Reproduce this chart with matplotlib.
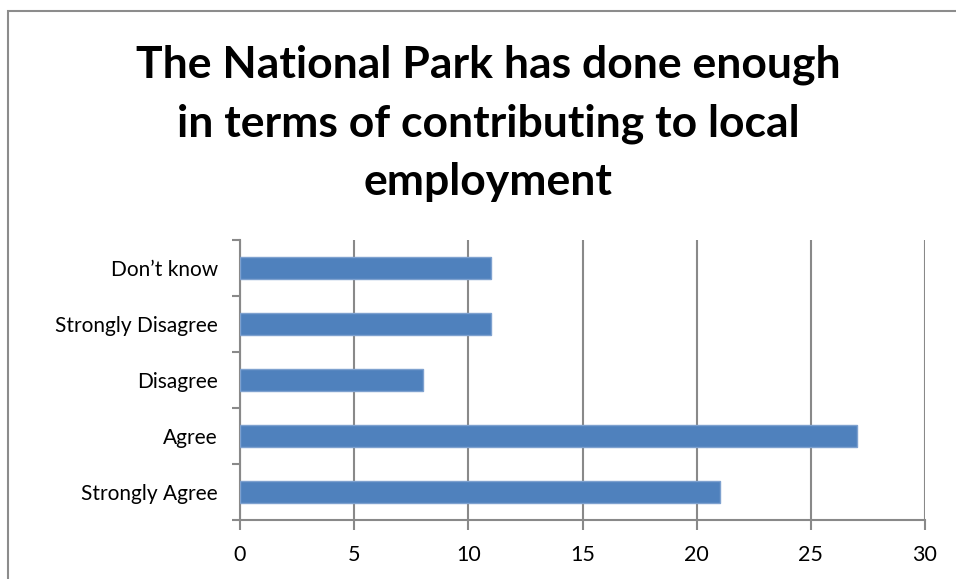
import matplotlib.pyplot as plt
from matplotlib.patches import Rectangle

categories = ["Strongly Agree", "Agree", "Disagree", "Strongly Disagree", "Don\u2019t know"]
counts = [21, 27, 8, 11, 11]
x_ticks = [0, 5, 10, 15, 20, 25, 30]

title = "The National Park has done enough\nin terms of contributing to local\nemployment"

plt.rcParams['font.family'] = ['Lato', 'DejaVu Sans']

fig = plt.figure(figsize=(9.56, 5.79), dpi=100)
ax = fig.add_axes([240 / 956, 1 - 520 / 579, 685 / 956, 280 / 579])

grey = "#898989"
ax.barh(range(len(categories)), counts, height=0.4, color="#4F81BD",
        edgecolor="#7EA1CF", linewidth=1.0, zorder=3)

ax.set_xlim(0, 30)
ax.set_ylim(-0.5, len(categories) - 0.5)
ax.set_xticks(x_ticks)
ax.set_xticklabels([str(t) for t in x_ticks], fontsize=15.5)
ax.set_yticks(range(len(categories)))
ax.set_yticklabels(categories, fontsize=15)
ax.set_yticks([i - 0.5 for i in range(len(categories) + 1)], minor=True)

ax.tick_params(axis="y", which="major", length=0, pad=16)
ax.tick_params(axis="y", which="minor", length=6, width=1.5, color=grey)
ax.tick_params(axis="x", length=7, width=1.5, color=grey, pad=11)

ax.grid(axis="x", color=grey, linewidth=1.5, zorder=0)
for side in ["top", "right"]:
    ax.spines[side].set_visible(False)
for side in ["left", "bottom"]:
    ax.spines[side].set_color(grey)
    ax.spines[side].set_linewidth(1.5)

fig.text(488 / 956, 1 - 123 / 579, title, ha="center", va="center",
         fontsize=32, fontweight="bold", linespacing=1.55)

# outer chart frame
fig.patches.append(Rectangle((8 / 956, -0.1), 1.2, 1 - 11 / 579 + 0.1,
                             transform=fig.transFigure, fill=False,
                             edgecolor="#8c8c8c", linewidth=1.5))

fig.savefig("out.png", dpi=100)
